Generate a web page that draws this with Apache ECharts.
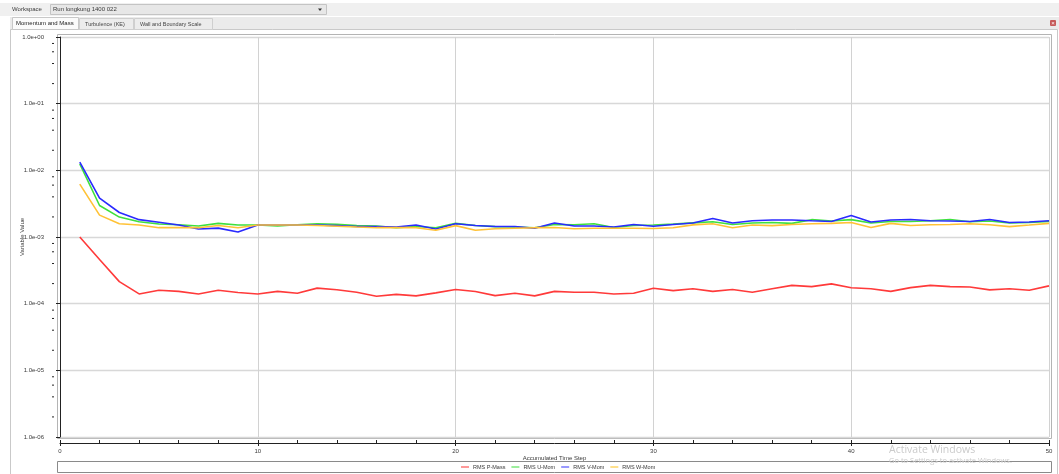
<!DOCTYPE html>
<html>
<head>
<meta charset="utf-8">
<title>Momentum and Mass</title>
<script src="https://cdn.jsdelivr.net/npm/echarts@6/dist/echarts.min.js"></script>
<style>
  html, body { margin: 0; padding: 0; background: #ffffff; }
  #chart { width: 1059px; height: 474px; }
</style>
</head>
<body>
<div id="chart"></div>
<script>
// Accumulated time steps
const steps = [1, 2, 3, 4, 5, 6, 7, 8, 9, 10, 11, 12, 13, 14, 15, 16, 17, 18, 19, 20,
  21, 22, 23, 24, 25, 26, 27, 28, 29, 30, 31, 32, 33, 34, 35, 36, 37, 38, 39, 40,
  41, 42, 43, 44, 45, 46, 47, 48, 49, 50];

// RMS residuals per time step
const rmsPMass = [1.0e-3, 4.6e-4, 2.14e-4, 1.40e-4, 1.59e-4, 1.53e-4, 1.40e-4, 1.59e-4, 1.47e-4, 1.40e-4,
  1.53e-4, 1.43e-4, 1.71e-4, 1.62e-4, 1.48e-4, 1.29e-4, 1.38e-4, 1.31e-4, 1.45e-4, 1.63e-4,
  1.52e-4, 1.32e-4, 1.43e-4, 1.31e-4, 1.53e-4, 1.48e-4, 1.48e-4, 1.40e-4, 1.43e-4, 1.70e-4,
  1.57e-4, 1.67e-4, 1.53e-4, 1.63e-4, 1.48e-4, 1.67e-4, 1.88e-4, 1.80e-4, 1.98e-4, 1.73e-4,
  1.67e-4, 1.53e-4, 1.74e-4, 1.88e-4, 1.80e-4, 1.78e-4, 1.61e-4, 1.67e-4, 1.59e-4, 1.85e-4];

const rmsUMom = [1.25e-2, 2.97e-3, 1.99e-3, 1.69e-3, 1.57e-3, 1.53e-3, 1.46e-3, 1.60e-3, 1.51e-3, 1.51e-3,
  1.46e-3, 1.53e-3, 1.58e-3, 1.55e-3, 1.49e-3, 1.46e-3, 1.38e-3, 1.44e-3, 1.38e-3, 1.60e-3,
  1.49e-3, 1.43e-3, 1.41e-3, 1.38e-3, 1.54e-3, 1.53e-3, 1.58e-3, 1.39e-3, 1.49e-3, 1.51e-3,
  1.56e-3, 1.63e-3, 1.69e-3, 1.54e-3, 1.62e-3, 1.65e-3, 1.60e-3, 1.82e-3, 1.74e-3, 1.82e-3,
  1.62e-3, 1.71e-3, 1.71e-3, 1.75e-3, 1.83e-3, 1.69e-3, 1.74e-3, 1.62e-3, 1.65e-3, 1.71e-3];

const rmsVMom = [1.33e-2, 3.84e-3, 2.33e-3, 1.82e-3, 1.66e-3, 1.51e-3, 1.32e-3, 1.36e-3, 1.19e-3, 1.51e-3,
  1.51e-3, 1.51e-3, 1.51e-3, 1.48e-3, 1.44e-3, 1.44e-3, 1.41e-3, 1.51e-3, 1.32e-3, 1.58e-3,
  1.49e-3, 1.44e-3, 1.44e-3, 1.35e-3, 1.62e-3, 1.46e-3, 1.46e-3, 1.41e-3, 1.54e-3, 1.45e-3,
  1.54e-3, 1.62e-3, 1.90e-3, 1.62e-3, 1.75e-3, 1.80e-3, 1.80e-3, 1.75e-3, 1.71e-3, 2.10e-3,
  1.68e-3, 1.80e-3, 1.83e-3, 1.75e-3, 1.74e-3, 1.71e-3, 1.83e-3, 1.65e-3, 1.68e-3, 1.75e-3];

const rmsWMom = [6.2e-3, 2.13e-3, 1.58e-3, 1.51e-3, 1.38e-3, 1.39e-3, 1.38e-3, 1.49e-3, 1.38e-3, 1.51e-3,
  1.51e-3, 1.51e-3, 1.49e-3, 1.45e-3, 1.41e-3, 1.38e-3, 1.38e-3, 1.38e-3, 1.26e-3, 1.48e-3,
  1.26e-3, 1.33e-3, 1.35e-3, 1.38e-3, 1.39e-3, 1.33e-3, 1.35e-3, 1.35e-3, 1.35e-3, 1.34e-3,
  1.38e-3, 1.52e-3, 1.58e-3, 1.38e-3, 1.51e-3, 1.48e-3, 1.54e-3, 1.58e-3, 1.60e-3, 1.65e-3,
  1.39e-3, 1.60e-3, 1.49e-3, 1.53e-3, 1.54e-3, 1.58e-3, 1.53e-3, 1.43e-3, 1.51e-3, 1.60e-3];

const seriesNames = ['RMS P-Mass', 'RMS U-Mom', 'RMS V-Mom', 'RMS W-Mom'];

// Y tick labels, one per decade from 1e-6 up to 1e0
const yTickLabels = ['1.0e-06', '1.0e-05', '1.0e-04', '1.0e-03', '1.0e-02', '1.0e-01', '1.0e+00'];
const yMinExp = -6;
// Minor tick mantissas inside each decade
const minorMantissas = [2, 4, 6, 8];

const lineColors = ['#ff3a3a', '#3ee03e', '#2a2aff', '#ffc236'];
const legendColors = ['#ff9a9a', '#9cee9c', '#9a9aff', '#ffe08c'];
const FONT = 'Liberation Sans';
const TEXT = '#3a3a3a';

const minorTickValues = [];
for (let e = yMinExp; e < 0; e++) {
  minorMantissas.forEach(m => minorTickValues.push([0, m * Math.pow(10, e)]));
}

const seriesValues = [rmsPMass, rmsUMom, rmsVMom, rmsWMom];

const chart = echarts.init(document.getElementById('chart'), null, { renderer: 'canvas' });

const gridLeft = 60, gridTop = 37, gridWidth = 989, gridHeight = 400;

const option = {
  animation: false,
  backgroundColor: '#ffffff',
  textStyle: { fontFamily: FONT },
  grid: {
    left: gridLeft, top: gridTop, width: gridWidth, height: gridHeight,
    containLabel: false, outerBoundsMode: 'none'
  },
  legend: {
    data: seriesNames.map((n, i) => ({ name: n, itemStyle: { color: legendColors[i] } })),
    left: 461,
    top: 464,
    icon: 'rect',
    itemWidth: 8,
    itemHeight: 2,
    itemGap: 6,
    padding: 0,
    textStyle: { fontSize: 5.5, color: TEXT, fontFamily: FONT, padding: [0, 0, 0, -1] }
  },
  xAxis: [
    {
      type: 'value',
      min: 0, max: 50, interval: 10,
      position: 'bottom',
      offset: 6,
      name: 'Accumulated Time Step',
      nameLocation: 'middle',
      nameGap: 12,
      nameMoveOverlap: false,
      nameTextStyle: { fontSize: 6, color: TEXT, fontFamily: FONT },
      axisLine: { show: true, lineStyle: { color: '#222', width: 1 } },
      axisTick: { show: true, inside: true, length: 3, lineStyle: { color: '#222' } },
      minorTick: { show: true, splitNumber: 5, length: 3, lineStyle: { color: '#222' } },
      axisLabel: { fontSize: 6, color: TEXT, margin: 5, fontFamily: FONT },
      splitLine: { show: true, lineStyle: { color: '#d2d2d2', width: 1 } }
    },
    {
      type: 'value',
      min: 0, max: 50, interval: 10,
      position: 'bottom',
      offset: 6,
      axisLine: { show: false },
      axisTick: { show: true, inside: false, length: 3, lineStyle: { color: '#222' } },
      axisLabel: { show: false },
      splitLine: { show: false }
    }
  ],
  yAxis: {
    type: 'log',
    logBase: 10,
    min: 1e-6, max: 1,
    offset: 6,
    name: 'Variable Value',
    nameLocation: 'middle',
    nameRotate: 90,
    nameGap: 29,
    nameMoveOverlap: false,
    nameTextStyle: { fontSize: 6, color: TEXT, fontFamily: FONT },
    axisLine: { show: true, lineStyle: { color: '#222', width: 1 } },
    axisTick: { show: true, inside: false, length: 4, lineStyle: { color: '#222' } },
    axisLabel: {
      fontSize: 6, color: TEXT, margin: 10, fontFamily: FONT,
      formatter: v => yTickLabels[Math.round(Math.log10(v)) - yMinExp] || ''
    },
    splitLine: { show: true, lineStyle: { color: '#d8d8d8', width: 1.3 } }
  },
  graphic: [
    // Top workspace bar
    { type: 'rect', shape: { x: 0, y: 3, width: 1059, height: 13 }, style: { fill: '#f0f0f0' }, z: -10 },
    { type: 'text', style: { text: 'Workspace', x: 12, y: 9.5, fontSize: 6, fill: TEXT, fontFamily: FONT, verticalAlign: 'middle' } },
    { type: 'rect', shape: { x: 50.5, y: 4.5, width: 276, height: 10 }, style: { fill: '#e7e7e7', stroke: '#c4c4c4', lineWidth: 1 } },
    { type: 'text', style: { text: 'Run longkung 1400 022', x: 53, y: 9.5, fontSize: 6, fill: TEXT, fontFamily: FONT, verticalAlign: 'middle' } },
    { type: 'polygon', shape: { points: [[318, 8.5], [322, 8.5], [320, 11]] }, style: { fill: '#333' } },
    // Tab row
    { type: 'rect', shape: { x: 10, y: 17, width: 1049, height: 12.5 }, style: { fill: '#ebebeb' }, z: -10 },
    { type: 'rect', shape: { x: 12.5, y: 17.5, width: 66, height: 12 }, style: { fill: '#fbfbfb', stroke: '#c8c8c8', lineWidth: 1 } },
    { type: 'text', style: { text: 'Momentum and Mass', x: 16, y: 23.5, fontSize: 6, fill: '#222', fontFamily: FONT, verticalAlign: 'middle' } },
    { type: 'rect', shape: { x: 79.5, y: 18.5, width: 54, height: 11 }, style: { fill: '#ececec', stroke: '#cfcfcf', lineWidth: 1 } },
    { type: 'text', style: { text: 'Turbulence (KE)', x: 85, y: 24, fontSize: 5.5, fill: '#444', fontFamily: FONT, verticalAlign: 'middle' } },
    { type: 'rect', shape: { x: 134.5, y: 18.5, width: 78, height: 11 }, style: { fill: '#ececec', stroke: '#cfcfcf', lineWidth: 1 } },
    { type: 'text', style: { text: 'Wall and Boundary Scale', x: 140, y: 24, fontSize: 5.5, fill: '#444', fontFamily: FONT, verticalAlign: 'middle' } },
    { type: 'rect', shape: { x: 1050, y: 20, width: 6, height: 6, r: 1 }, style: { fill: '#c65a5a' } },
    { type: 'text', style: { text: '×', x: 1053, y: 23, fontSize: 6, fill: '#fff', fontFamily: FONT, align: 'center', verticalAlign: 'middle' } },
    // Panel border
    { type: 'rect', shape: { x: 10.5, y: 29.5, width: 1047, height: 446 }, style: { fill: 'none', stroke: '#c9c9c9', lineWidth: 1 }, z: -5 },
    // Plot frame
    { type: 'rect', shape: { x: 57.5, y: 34.5, width: 994, height: 404 }, style: { fill: 'none', stroke: '#b4b4b4', lineWidth: 1 } },
    // Legend box
    { type: 'rect', shape: { x: 57.5, y: 461.5, width: 994, height: 11 }, style: { fill: 'none', stroke: '#8a8a8a', lineWidth: 1 } },
    // System watermark
    { type: 'text', z: 100, style: { text: 'Activate Windows', x: 889, y: 450, fontSize: 10.5, fill: '#cbcbcb', fontFamily: 'Open Sans', verticalAlign: 'middle' } },
    { type: 'text', z: 100, style: { text: 'Go to Settings to activate Windows.', x: 889, y: 461, fontSize: 7.5, fill: '#cbcbcb', fontFamily: 'Open Sans', verticalAlign: 'middle' } }
  ],
  series: seriesNames.map((name, i) => ({
    name: name,
    type: 'line',
    xAxisIndex: 0,
    data: steps.map((s, k) => [s, seriesValues[i][k]]),
    symbol: 'none',
    smooth: false,
    color: lineColors[i],
    lineStyle: { color: lineColors[i], width: 1.6 },
    z: 3
  })).concat([{
    // Minor log ticks on the Y axis (2, 4, 6, 8 of each decade)
    name: 'yMinorTicks',
    type: 'custom',
    xAxisIndex: 0,
    clip: false,
    silent: true,
    data: minorTickValues,
    renderItem: (params, api) => {
      const p = api.coord([api.value(0), api.value(1)]);
      return {
        type: 'line',
        shape: { x1: p[0] - 8, y1: p[1], x2: p[0] - 6, y2: p[1] },
        style: { stroke: '#222', lineWidth: 1 }
      };
    },
    z: 5
  }])
};

chart.setOption(option);
</script>
</body>
</html>
